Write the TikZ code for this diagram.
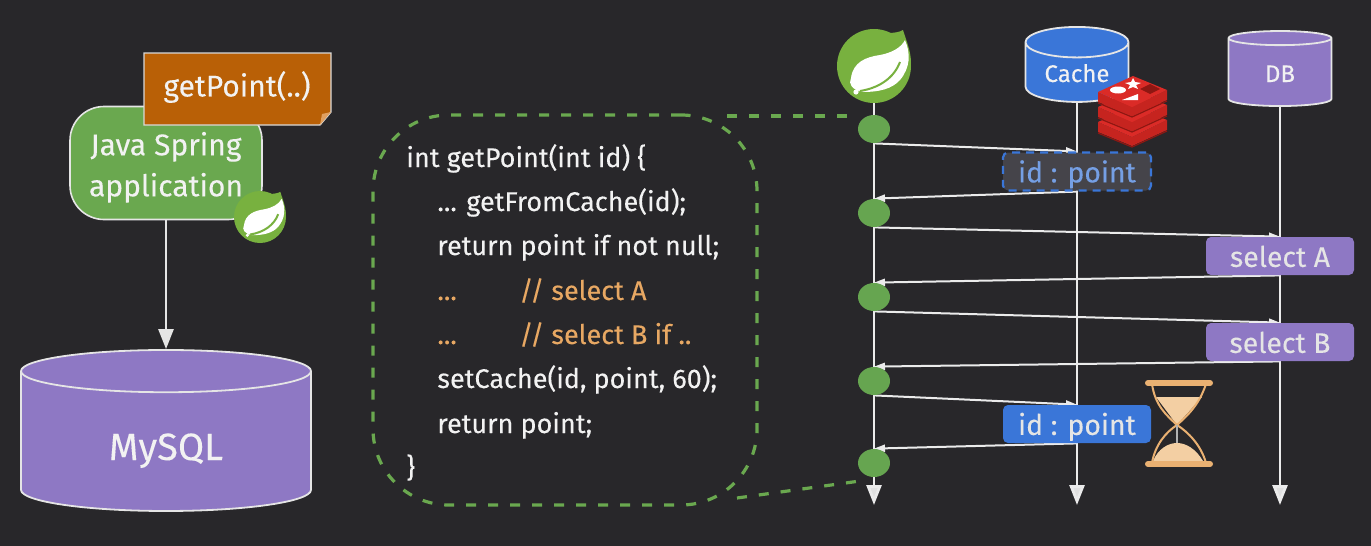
\documentclass[tikz,border=0pt]{standalone}
\usepackage{fontspec}
\setmainfont{Fira Sans}[FakeBold=0.15]
\usetikzlibrary{arrows.meta, shapes.geometric, backgrounds}
\definecolor{bgdark}{HTML}{28272A}
\definecolor{springgreen}{HTML}{6AA84F}
\definecolor{logogreen}{HTML}{78B13F}
\definecolor{dotgreen}{HTML}{66A550}
\definecolor{notebrown}{HTML}{B96006}
\definecolor{foldbrown}{HTML}{E0A060}
\definecolor{dbpurple}{HTML}{8E78C4}
\definecolor{cacheblue}{HTML}{3A76D8}
\definecolor{stalegrey}{HTML}{45444A}
\definecolor{codeorange}{HTML}{E8A863}
\definecolor{sandlight}{HTML}{F3CFA3}
\definecolor{redislight}{HTML}{DB2B27}
\definecolor{redisside}{HTML}{C6241F}
\definecolor{redisdark}{HTML}{8E1712}
\newcommand{\springleaf}{
  \fill[logogreen] (14,-33) .. controls (20,-33) and (26,-34) .. (29,-36) .. controls (32,-26) and (37,-15) .. (37,-3) -- (20,-10) -- cycle;
  \fill[white] (-11,26) .. controls (-22,24) and (-26,18) .. (-23,12) .. controls (-21,-4) and (-8,-9) .. (6,-11)
    .. controls (17,-13) and (27,-18) .. (31,-26) .. controls (37,-12) and (36,2) .. (26,14) .. controls (18,23) and (5,26) .. (-11,26) -- cycle;
  \draw[logogreen, line width=1pt] (-14,25) .. controls (5,22) and (20,12) .. (26,-4);
  \fill[white] (-18,26) circle (2.6);
}
\tikzset{
  flowline/.style={draw=white!90!black, line width=1.4pt},
  msg/.style={draw=white!92!black, line width=1pt, -{Triangle[length=5.5pt,width=3.6pt]}},
  lifeline/.style={draw=white!92!black, line width=1.4pt, -{Triangle[length=10pt,width=7.5pt,fill=white!88!black]}},
  calldot/.style={ellipse, fill=dotgreen, minimum width=16pt, minimum height=14pt, inner sep=0pt},
  boxlabel/.style={rounded corners=2.5pt, minimum width=74pt, minimum height=19pt, inner sep=0pt, text=white!90!black,
    text height=1.2em, text depth=0.11em, font=\fontsize{14.2}{16}\selectfont},
  dbcyl/.style={cylinder, shape border rotate=90, draw=white!90!black, line width=0.9pt, cylinder uses custom fill,
    inner sep=0pt, text=white!95!black},
  smallcyl/.style={dbcyl, minimum width=51.5pt, minimum height=37.5pt, aspect=0.47, text height=10pt, text depth=0.5pt,
    font=\fontsize{12}{14}\selectfont},
  codeline/.style={anchor=base west, inner sep=0pt, text=white!95!black, font=\fontsize{13.5}{15}\selectfont},
  orangeline/.style={codeline, text=codeorange},
  dashgreen/.style={draw=springgreen, line width=1.6pt, dash pattern=on 5pt off 6pt}
}
\begin{document}
\begin{tikzpicture}[x=0.5pt, y=-0.5pt, >=stealth]
  \useasboundingbox (0,0) rectangle (1371,546);

  % left side
  \node[dbcyl, cylinder body fill=dbpurple, cylinder end fill=dbpurple, minimum width=145pt, minimum height=80.5pt, aspect=0.37,
    text height=19pt, text depth=0.5pt, font=\fontsize{19}{21}\selectfont] (mysql) at (166,441.5) {MySQL};
  \node[draw=white!90!black, line width=0.8pt, fill=springgreen, rounded corners=17pt, minimum width=96pt, minimum height=56.5pt,
    align=center, text=white!95!black, font=\fontsize{15}{20.5}\selectfont] (app) at (166,163) {\rule{0pt}{16pt}Java Spring\\application};
  \fill[notebrown, draw=white!85!black, line width=0.7pt] (144,53) -- (331,53) -- (331,112) -- (320,125) -- (144,125) -- cycle;
  \fill[foldbrown] (331,112) -- (320,125) -- (322,114) -- cycle;
  \node[text=white!95!black, inner sep=0pt, font=\fontsize{15}{17}\selectfont] (getpoint) at (237,87) {getPoint(..)};
  \node[circle, fill=logogreen, minimum size=26pt, inner sep=0pt] (smallspring) at (260,217) {};
  \begin{scope}[shift={(260,217)}, scale=0.7]
    \springleaf
  \end{scope}

  % code
  \node[dashgreen, rounded corners=38pt, minimum width=192pt, minimum height=195pt] (code) at (565,310) {};
  \node[codeline] (line1) at (406,167) {int getPoint(int id) \{};
  \node[codeline] (line2) at (437,211) {... getFromCache(id);};
  \node[codeline] (line3) at (437,255) {return point if not null;};
  \node[orangeline] (line4) at (437,300) {...};
  \node[orangeline] (line4b) at (519,300) {// select A};
  \node[orangeline] (line5) at (437,344) {...};
  \node[orangeline] (line5b) at (519,344) {// select B if ..};
  \node[codeline] (line6) at (437,388) {setCache(id, point, 60);};
  \node[codeline] (line7) at (437,433) {return point;};
  \node[codeline] (line8) at (406,477) {\}};
  \coordinate (codetop) at (727,116);
  \coordinate (codelow) at (737,498);
  \coordinate (calltop) at (853,116);
  \coordinate (calllow) at (860,481);

  % lifelines
  \node[circle, fill=logogreen, minimum size=37pt, inner sep=0pt] (spring) at (874,66) {};
  \begin{scope}[shift={(874,66)}]
    \springleaf
  \end{scope}
  \node[smallcyl, cylinder body fill=cacheblue, cylinder end fill=cacheblue] (cache) at (1077,72.5) {Cache};
  \node[smallcyl, cylinder body fill=dbpurple, cylinder end fill=dbpurple] (db) at (1280,72.5) {DB};
  \coordinate (springend) at (874,505);
  \coordinate (cacheend) at (1077,505);
  \coordinate (dbend) at (1280,505);

  \node[calldot] (call1) at (874,129) {};
  \node[calldot] (call2) at (874,213) {};
  \node[calldot] (call3) at (874,297) {};
  \node[calldot] (call4) at (874,381) {};
  \node[calldot] (call5) at (874,463) {};

  \node[boxlabel, fill=stalegrey, draw=cacheblue, line width=1.1pt, dash pattern=on 4pt off 3pt, text=cacheblue!70!white] (stale) at (1077,171.5) {id : point};
  \node[boxlabel, fill=dbpurple] (selecta) at (1280,256) {select A};
  \node[boxlabel, fill=dbpurple] (selectb) at (1280,342) {select B};
  \node[boxlabel, fill=cacheblue] (fresh) at (1077,424) {id : point};

  % redis
  \foreach \d in {30,15,0} {
    \fill[redisside] (1098,92+\d) -- (1132,107+\d) -- (1167,90+\d) -- (1167,100+\d) -- (1132,116+\d) -- (1098,102+\d) -- cycle;
    \draw[redisdark, line width=0.6pt] (1098,103+\d) -- (1132,117+\d) -- (1167,101+\d);
    \fill[redislight] (1098,92+\d) -- (1133,76+\d) -- (1167,90+\d) -- (1132,107+\d) -- cycle;
  }
  \fill[white] (1118,90) ellipse (8 and 3.5);
  \fill[white] (1133,78) -- (1135,82) -- (1141,83) -- (1136,85) -- (1138,89) -- (1133,87) -- (1128,89) -- (1130,85) -- (1125,83) -- (1131,82) -- cycle;
  \fill[white] (1122,100) -- (1138,94) -- (1138,100) -- cycle;
  \fill[redisdark] (1140,89) -- (1150,84) -- (1160,89) -- (1150,94) -- cycle;

  % hourglass
  \fill[sandlight] (1156,397) -- (1202,397) -- (1177,425) -- cycle;
  \fill[sandlight] (1153,461) .. controls (1158,449) and (1168,443) .. (1177,443) .. controls (1186,443) and (1196,449) .. (1203,461) -- cycle;
  \draw[codeorange!90!white, line width=1pt] (1152,384) .. controls (1155,405) and (1166,415) .. (1177,425)
    .. controls (1188,415) and (1199,405) .. (1206,384);
  \draw[codeorange!90!white, line width=1pt] (1152,463) .. controls (1155,445) and (1166,432) .. (1177,425)
    .. controls (1188,432) and (1201,445) .. (1206,463);
  \draw[white!70!black, line width=1pt] (1177,425) -- (1177,443);
  \draw[codeorange!90!white, line width=3pt, line cap=round] (1148,383) -- (1210,383);
  \draw[codeorange!90!white, line width=3pt, line cap=round] (1148,464) -- (1210,464);

  \begin{scope}[on background layer]
    \fill[bgdark] (0,0) rectangle (1371,546);
    \draw[flowline, -{Triangle[length=10pt,width=7.5pt]}] (app) -- (mysql);
    \draw[lifeline] (spring) -- (springend);
    \draw[lifeline] (cache) -- (cacheend);
    \draw[lifeline] (db) -- (dbend);
    \draw[dashgreen] (codetop) -- (calltop);
    \draw[dashgreen] (codelow) -- (calllow);
    \draw[msg] (call1.south) -- (stale.north);
    \draw[msg] (stale.south) -- (call2.north);
    \draw[msg] (call2.south) -- (selecta.north);
    \draw[msg] (selecta.south) -- (call3.north);
    \draw[msg] (call3.south) -- (selectb.north);
    \draw[msg] (selectb.south) -- (call4.north);
    \draw[msg] (call4.south) -- (fresh.north);
    \draw[msg] (fresh.south) -- (call5.north);
  \end{scope}
\end{tikzpicture}
\end{document}
